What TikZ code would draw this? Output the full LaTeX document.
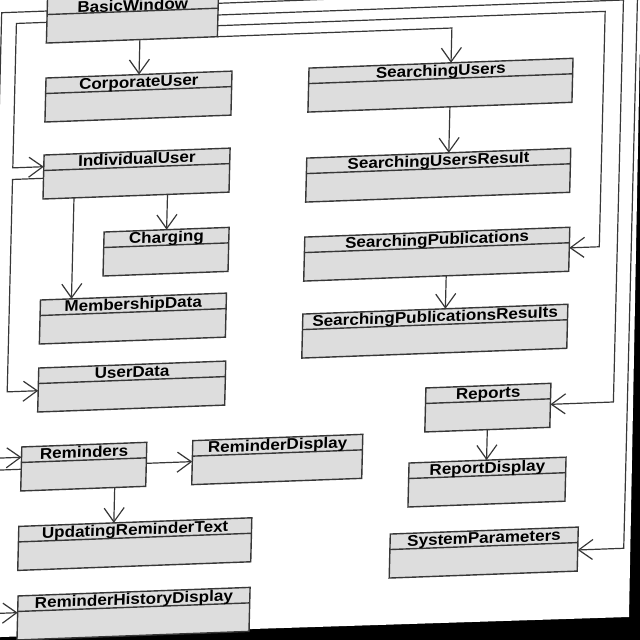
\documentclass[tikz,border=0pt]{standalone}
\usepackage{fontspec}
\newfontfamily\classfont{Liberation Sans}[FakeStretch=1.1]
\usepackage{xcolor}
\usepackage{tikz}
\usetikzlibrary{arrows.meta, positioning, calc}

\definecolor{boxgray}{RGB}{221,221,221}
\definecolor{linegray}{RGB}{55,55,55}

\begin{document}
\begin{tikzpicture}[
      x=1pt, y=1pt,
      umlclass/.style={draw=linegray, fill=boxgray, line width=1.4pt, anchor=north west,
        minimum width=#1, inner sep=0pt, outer sep=0pt,
        text height=12.8pt, text depth=31.2pt,
        font={\classfont\bfseries\fontsize{15.5}{18}\selectfont},
        path picture={\draw[linegray, line width=1.4pt]
          ([yshift=-15.5pt]path picture bounding box.north west) --
          ([yshift=-15.5pt]path picture bounding box.north east);}},
      assoc/.style={draw=linegray, line width=1.2pt, -{Straight Barb[length=14pt, width=20pt]}}
    ]
      \useasboundingbox (0,0) rectangle (640,640);
      \clip (0,0) rectangle (640,640);
      \fill[black] (0,0) rectangle (640,640);
      \fill[white] (-5,2.8) -- (629,23) -- (640.8,641) -- (-5,641) -- cycle;

      \begin{scope}[transform canvas={cm={1,0.037,0.025,1,(0,0)}}]
      \node[umlclass=171pt, text height=15pt, text depth=29pt] (BasicWindow) at (31.5,639.8) {BasicWindow};
      \node[umlclass=186pt] (CorporateUser) at (32,560.8) {CorporateUser};
      \node[umlclass=186pt] (IndividualUser) at (32,483.8) {IndividualUser};
      \node[umlclass=125pt] (Charging) at (94,404.5) {Charging};
      \node[umlclass=186pt] (MembershipData) at (32,338.8) {MembershipData};
      \node[umlclass=187pt] (UserData) at (32,270.8) {UserData};
      \node[umlclass=125pt] (Reminders) at (17,192.4) {Reminders};
      \node[umlclass=170pt] (ReminderDisplay) at (188,192.4) {ReminderDisplay};
      \node[umlclass=233pt] (UpdatingReminderText) at (16,113) {UpdatingReminderText};
      \node[umlclass=232pt] (ReminderHistoryDisplay) at (17,43.4) {ReminderHistoryDisplay};
      \node[umlclass=264pt] (SearchingUsers) at (295,561) {SearchingUsers};
      \node[umlclass=264pt] (SearchingUsersResult) at (295,471) {SearchingUsersResult};
      \node[umlclass=265pt] (SearchingPublications) at (295,392) {SearchingPublications};
      \node[umlclass=265pt] (SearchingPublicationsResults) at (295,315) {SearchingPublicationsResults};
      \node[umlclass=125pt] (Reports) at (420,236.5) {Reports};
      \node[umlclass=157pt] (ReportDisplay) at (405,162) {ReportDisplay};
      \node[umlclass=188pt] (SystemParameters) at (388,91.6) {SystemParameters};

      \coordinate (railSP) at (590,0);
      \coordinate (railRep) at (608,0);
      \coordinate (railSys) at (622,0);
      \coordinate (railIU) at (1,0);
      \coordinate (railRem) at (-14,0);
      \coordinate (railHist) at (-6,0);

      \coordinate (bwSys) at ([yshift=-10.6]BasicWindow.north east);
      \coordinate (bwRep) at ([yshift=-22.3]BasicWindow.north east);
      \coordinate (bwPub) at ([yshift=-33]BasicWindow.north east);
      \coordinate (bwInd) at ([yshift=-23.3]BasicWindow.north west);
      \coordinate (bwRem) at ([yshift=-12]BasicWindow.north west);
      \coordinate (pubIn) at ([yshift=-20.6]SearchingPublications.north east);
      \coordinate (repIn) at ([yshift=-21]Reports.north east);
      \coordinate (sysIn) at ([yshift=-22.9]SystemParameters.north east);
      \coordinate (indIn) at ([yshift=-11.7]IndividualUser.north west);
      \coordinate (indOut) at ([yshift=-23.3]IndividualUser.north west);
      \coordinate (udIn) at ([yshift=-22.7]UserData.north west);
      \coordinate (remIn) at ([yshift=-10.3]Reminders.north west);
      \coordinate (remOut) at ([yshift=-22.3]Reminders.north west);
      \coordinate (histIn) at ([yshift=-16.7]ReminderHistoryDisplay.north west);
      \coordinate (remDown) at ([xshift=31.5]Reminders.south);

      \draw[assoc] (BasicWindow.south -| CorporateUser.north) -- (CorporateUser.north);
      \draw[assoc] (BasicWindow.south east) -| ([xshift=10]SearchingUsers.north);
      \draw[assoc] (bwPub) -| (railSP |- pubIn) -- (pubIn);
      \draw[assoc] (bwRep) -| (railRep |- repIn) -- (repIn);
      \draw[assoc] (bwSys) -| (railSys |- sysIn) -- (sysIn);
      \draw[assoc] (bwInd) -| (railIU |- indIn) -- (indIn);
      \draw[assoc] (bwRem) -| (railRem |- remIn) -- (remIn);
      \draw[assoc] (indOut) -| (railIU |- udIn) -- (udIn);
      \draw[assoc] (IndividualUser.south -| Charging.north) -- (Charging.north);
      \draw[assoc] ([xshift=-62]IndividualUser.south) -- ([xshift=-62]MembershipData.north);
      \draw[assoc] ([xshift=10]SearchingUsers.south) -- ([xshift=10]SearchingUsersResult.north);
      \draw[assoc] ([xshift=10]SearchingPublications.south) -- ([xshift=10]SearchingPublicationsResults.north);
      \draw[assoc] (Reports.south) -- (Reports.south |- ReportDisplay.north);
      \draw[assoc] ([yshift=-21]Reminders.north east) -- ([yshift=-21]ReminderDisplay.north west);
      \draw[assoc] (remDown) -- (remDown |- UpdatingReminderText.north);
      \draw[assoc] (remOut) -| (railHist |- histIn) -- (histIn);
      \end{scope}
    \end{tikzpicture}
\end{document}
